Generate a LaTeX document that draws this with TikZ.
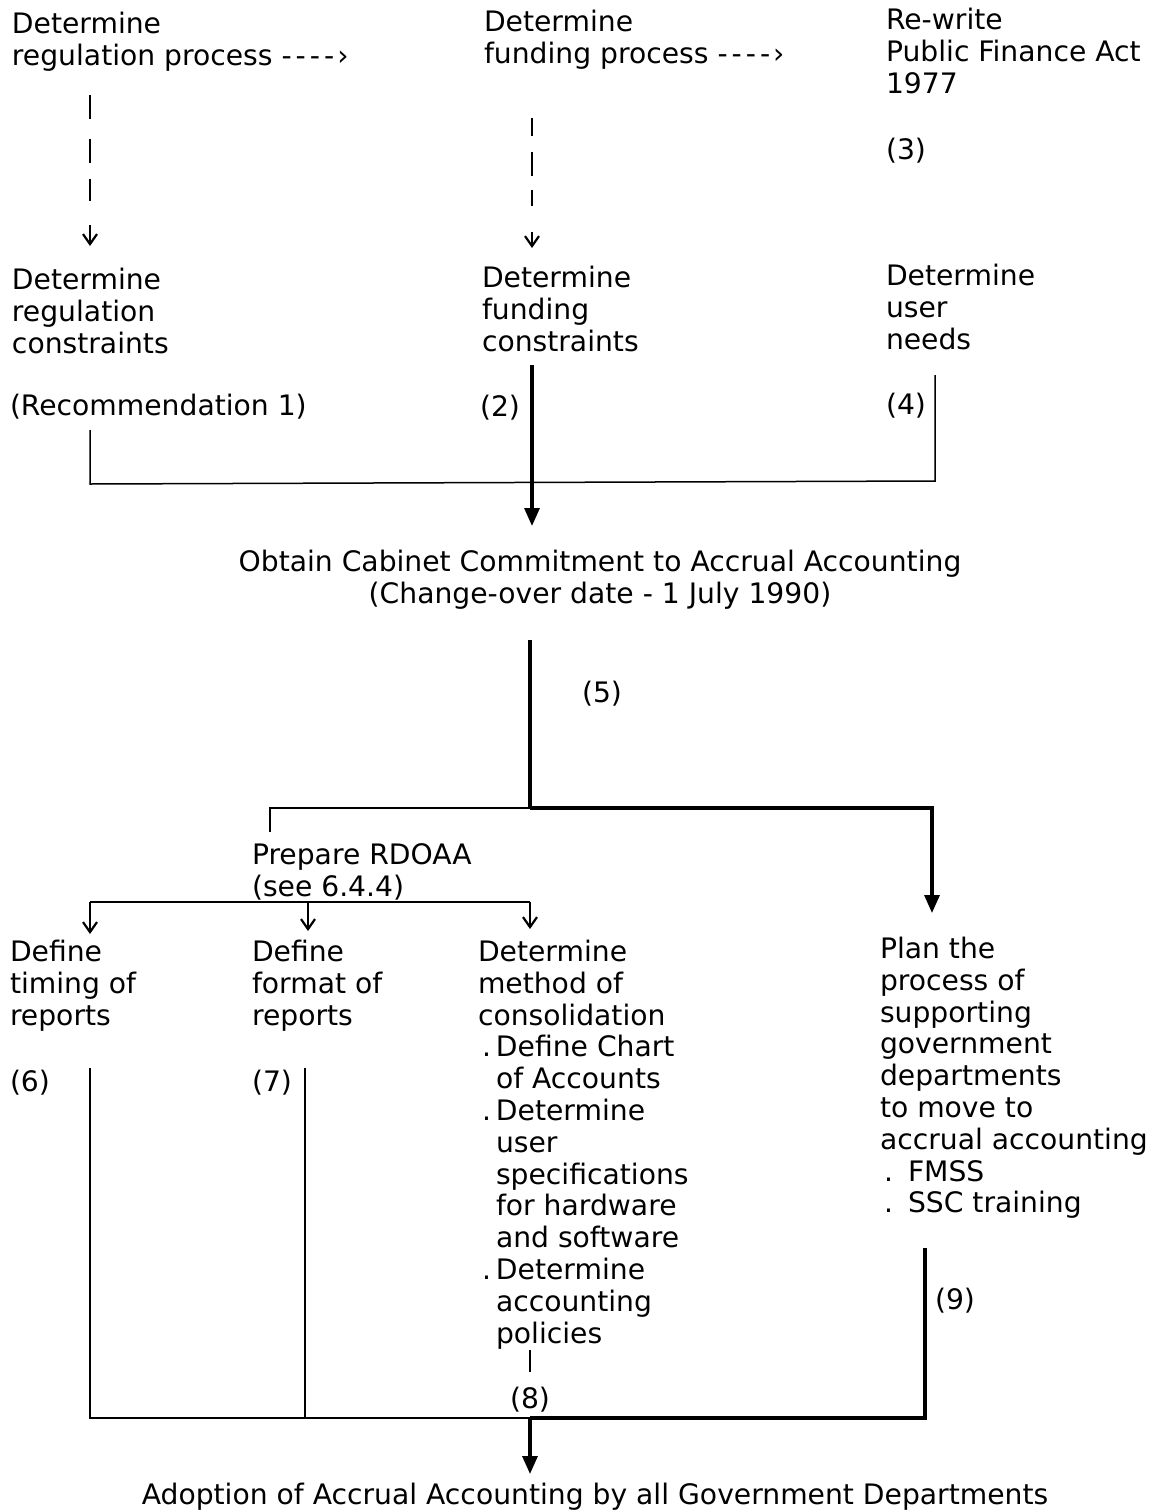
\documentclass[tikz,border=0pt]{standalone}
\usepackage{fontspec}
\setmainfont{DejaVu Sans}
\usetikzlibrary{arrows.meta}
\newcommand\bulA{\makebox[18pt][l]{\hspace*{4pt}.}}
\newcommand\indA{\hspace*{18pt}}
\newcommand\bulB{\makebox[28pt][l]{\hspace*{4pt}.}}
\newcommand\dashesA{-\kern4pt-\kern4pt-\kern4pt-\kern3pt›}
\begin{document}
\begin{tikzpicture}[x=1pt,y=-1pt,
  txt/.style={inner sep=0pt, outer sep=0pt, anchor=north west, align=left,
    font=\fontsize{28.2}{31.8}\selectfont},
  ctxt/.style={txt, anchor=center, align=center},
  wire/.style={line width=1.5pt},
  heavy/.style={line width=3.2pt},
  smallhead/.style={-{Straight Barb[length=10pt,width=14pt,line width=2.2pt]}},
  bighead/.style={-{Triangle[length=18pt,width=15pt]}}
]
\useasboundingbox (0,0) rectangle (1157,1510);
\fill[white] (0,0) rectangle (1157,1510);

% --- top row
\node[txt] (regproc) at (12,12) {Determine\\regulation process \dashesA};
\node[txt] (fundproc) at (484,10) {Determine\\funding process \dashesA};
\node[txt] (rewrite) at (886,8) {Re-write\\Public Finance Act\\1977};
\node[txt] (n3) at (886,138) {(3)};

% --- constraints row
\node[txt] (regcon) at (12,268) {Determine\\regulation\\constraints};
\node[txt] (rec1) at (10,394) {(Recommendation 1)};
\node[txt] (fundcon) at (482,266) {Determine\\funding\\constraints};
\node[txt] (n2) at (480,395) {(2)};
\node[txt] (userneeds) at (886,264) {Determine\\user\\needs};
\node[txt] (n4) at (886,393) {(4)};

% --- cabinet
\node[ctxt] (obtain) at (600,580) {Obtain Cabinet Commitment to Accrual Accounting\\(Change-over date - 1 July 1990)};
\node[txt] (n5) at (582,681) {(5)};

% --- RDOAA
\node[txt] (rdoaa) at (252,844) {Prepare RDOAA\\(see 6.4.4)};
\node[txt] (timing) at (10,940) {Define\\timing of\\reports};
\node[txt] (n6) at (10,1070) {(6)};
\node[txt] (format) at (252,940) {Define\\format of\\reports};
\node[txt] (n7) at (252,1070) {(7)};
\node[txt] (consol) at (478,940) {Determine\\method of\\consolidation\\
\bulA Define Chart\\\indA of Accounts\\\bulA Determine\\\indA user\\\indA specifications\\\indA for hardware\\\indA and software\\\bulA Determine\\\indA accounting\\\indA policies};
\node[ctxt] (n8) at (530,1400) {(8)};
\node[txt] (plan) at (880,937) {Plan the\\process of\\supporting\\government\\departments\\to move to\\accrual accounting\\\bulB FMSS\\\bulB SSC training};
\node[txt] (n9) at (935,1288) {(9)};

% --- bottom
\node[ctxt] (adopt) at (595,1497) {Adoption of Accrual Accounting by all Government Departments};

% ===== connectors
% dashed process arrows
\coordinate (d1a) at (90,95);
\coordinate (d1b) at (90,246);
\coordinate (d2a) at (532,118);
\coordinate (d2b) at (532,248);
\draw[line width=1.3pt] (d1a) -- ++(0,24) ++(0,20) -- ++(0,24) ++(0,16) -- ++(0,22);
\draw[line width=1.3pt, smallhead] (90,225) -- (d1b);
\draw[line width=1.3pt] (d2a) -- ++(0,18) ++(0,16) -- ++(0,24) ++(0,14) -- ++(0,16);
\draw[line width=1.3pt, smallhead] (532,232) -- (d2b);

% join into cabinet
\coordinate (j1l) at (90,430);
\coordinate (j1lb) at (90,484);
\coordinate (j1r) at (935,375);
\coordinate (j1rb) at (935,481);
\coordinate (j1t) at (532,365);
\coordinate (j1tip) at (532,526);
\draw[wire] (j1l) -- (j1lb) -- (j1rb) -- (j1r);
\draw[heavy, bighead] (j1t) -- (j1tip);

% cabinet to split
\coordinate (s1) at (530,640);
\coordinate (s2) at (530,808);
\coordinate (s3) at (270,808);
\coordinate (s4) at (270,832);
\coordinate (s5) at (932,808);
\coordinate (s6) at (932,913);
\draw[heavy] (s1) -- (s2);
\draw[wire] (s2) -- (s3) -- (s4);
\draw[heavy, bighead] (s2) -- (s5) -- (s6);

% RDOAA split
\coordinate (r1) at (90,902);
\coordinate (r2) at (308,902);
\coordinate (r3) at (530,902);
\draw[wire] (r1) -- (r3);
\draw[wire, smallhead] (r1) -- (90,934);
\draw[wire, smallhead] (r2) -- (308,931);
\draw[wire, smallhead] (r3) -- (530,929);

% to adoption
\coordinate (b6) at (90,1068);
\coordinate (b7) at (305,1068);
\coordinate (b8) at (530,1350);
\coordinate (b8b) at (530,1372);
\coordinate (b9) at (925,1248);
\coordinate (bl) at (90,1418);
\coordinate (bm7) at (305,1418);
\coordinate (bm) at (530,1418);
\coordinate (br) at (925,1418);
\coordinate (btip) at (530,1474);
\draw[wire] (b6) -- (bl) -- (bm);
\draw[wire] (b7) -- (bm7);
\draw[wire] (b8) -- (b8b);
\draw[heavy] (b9) -- (br) -- (bm);
\draw[heavy, bighead] (bm) -- (btip);
\end{tikzpicture}
\end{document}
